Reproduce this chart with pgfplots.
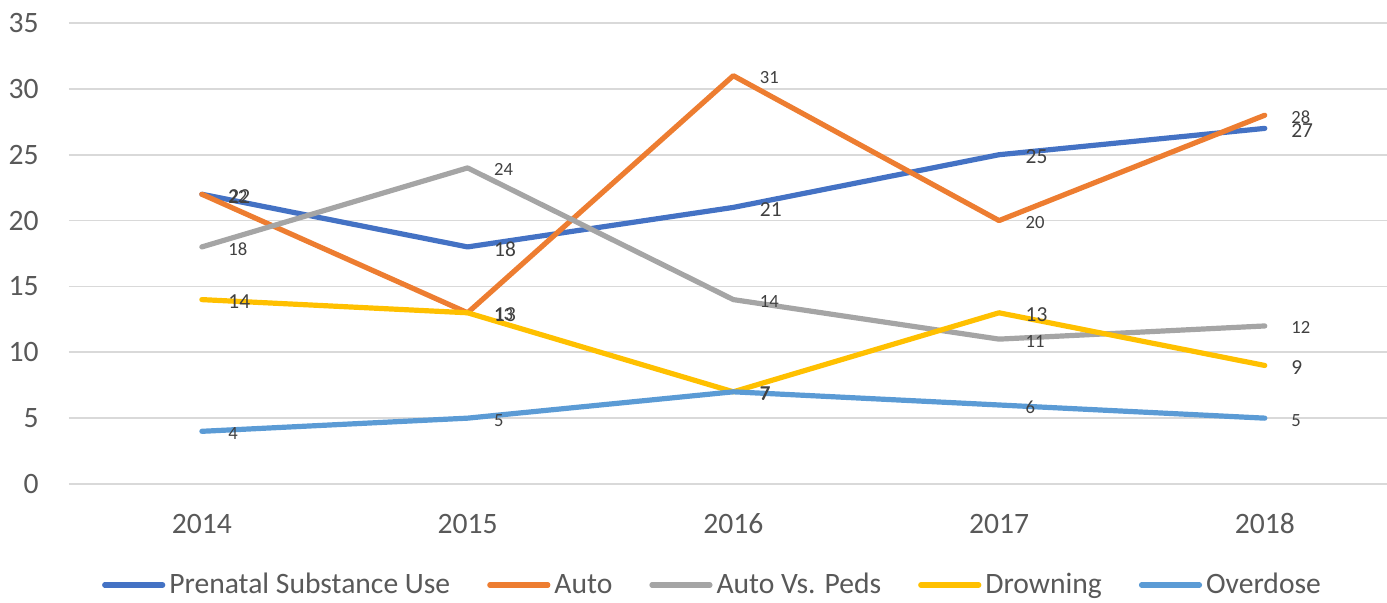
\documentclass[border=0pt]{standalone}
\usepackage{pgfplots}
\pgfplotsset{compat=1.18}
\usepackage{fontspec}
\setmainfont{Carlito}
\definecolor{cBlue}{HTML}{4472C4}
\definecolor{cOrange}{HTML}{ED7D31}
\definecolor{cGray}{HTML}{A5A5A5}
\definecolor{cYellow}{HTML}{FFC000}
\definecolor{cLBlue}{HTML}{5B9BD5}
\definecolor{gridgray}{HTML}{D9D9D9}
\definecolor{labgray}{HTML}{595959}
\definecolor{labtext}{HTML}{404040}
\begin{document}
\begin{tikzpicture}
\useasboundingbox (-34.5pt,-59pt) rectangle (659pt,242pt);
\begin{axis}[
  at={(0,0)}, anchor=south west, scale only axis,
  width=659pt, height=230.5pt,
  xmin=-0.5, xmax=4.46, ymin=0, ymax=35,
  ytick={0,5,10,15,20,25,30,35},
  xtick={0,1,2,3,4}, xticklabels={2014,2015,2016,2017,2018},
  axis line style={draw=none}, major tick length=0pt,
  ymajorgrids, grid style={draw=gridgray, line width=0.9pt},
  tick label style={font=\fontsize{14.8}{16}\selectfont, text=labgray},
  /pgf/number format/assume math mode=true,
  yticklabel style={anchor=east, inner sep=0pt, xshift=-15pt},
  xticklabel style={anchor=base, inner sep=0pt, yshift=-24.75pt},
  clip=false,
  every axis plot/.append style={line width=2.6pt, line join=round, line cap=round, no markers},
  nodes near coords,
  every node near coord/.append style={anchor=west, inner sep=0pt, xshift=12pt, yshift=-1pt, text=labtext},
  legend style={at={(axis description cs:0.489,0)}, anchor=center, yshift=-50.5pt,
    draw=none, fill=none, legend columns=5, inner sep=0pt,
    font=\fontsize{14.8}{16}\selectfont, text=labgray,
    /tikz/every even column/.append style={column sep=16.5pt},
    cells={anchor=west}},
  legend image code/.code={\draw[#1, line cap=round] (0pt,0pt) -- (29pt,0pt);},
]
\addplot[cBlue, every node near coord/.append style={font=\fontsize{10.7}{12}\selectfont}] coordinates {(0,22) (1,18) (2,21) (3,25) (4,27)};
\addlegendentry{Prenatal Substance Use}
\addplot[cOrange, every node near coord/.append style={font=\fontsize{9.3}{11}\selectfont}] coordinates {(0,22) (1,13) (2,31) (3,20) (4,28)};
\addlegendentry{Auto}
\addplot[cGray, every node near coord/.append style={font=\fontsize{9.3}{11}\selectfont}] coordinates {(0,18) (1,24) (2,14) (3,11) (4,12)};
\addlegendentry{Auto Vs. Peds}
\addplot[cYellow, every node near coord/.append style={font=\fontsize{10.7}{12}\selectfont}] coordinates {(0,14) (1,13) (2,7) (3,13) (4,9)};
\addlegendentry{Drowning}
\addplot[cLBlue, every node near coord/.append style={font=\fontsize{9.3}{11}\selectfont}] coordinates {(0,4) (1,5) (2,7) (3,6) (4,5)};
\addlegendentry{Overdose}
\end{axis}
\end{tikzpicture}
\end{document}
